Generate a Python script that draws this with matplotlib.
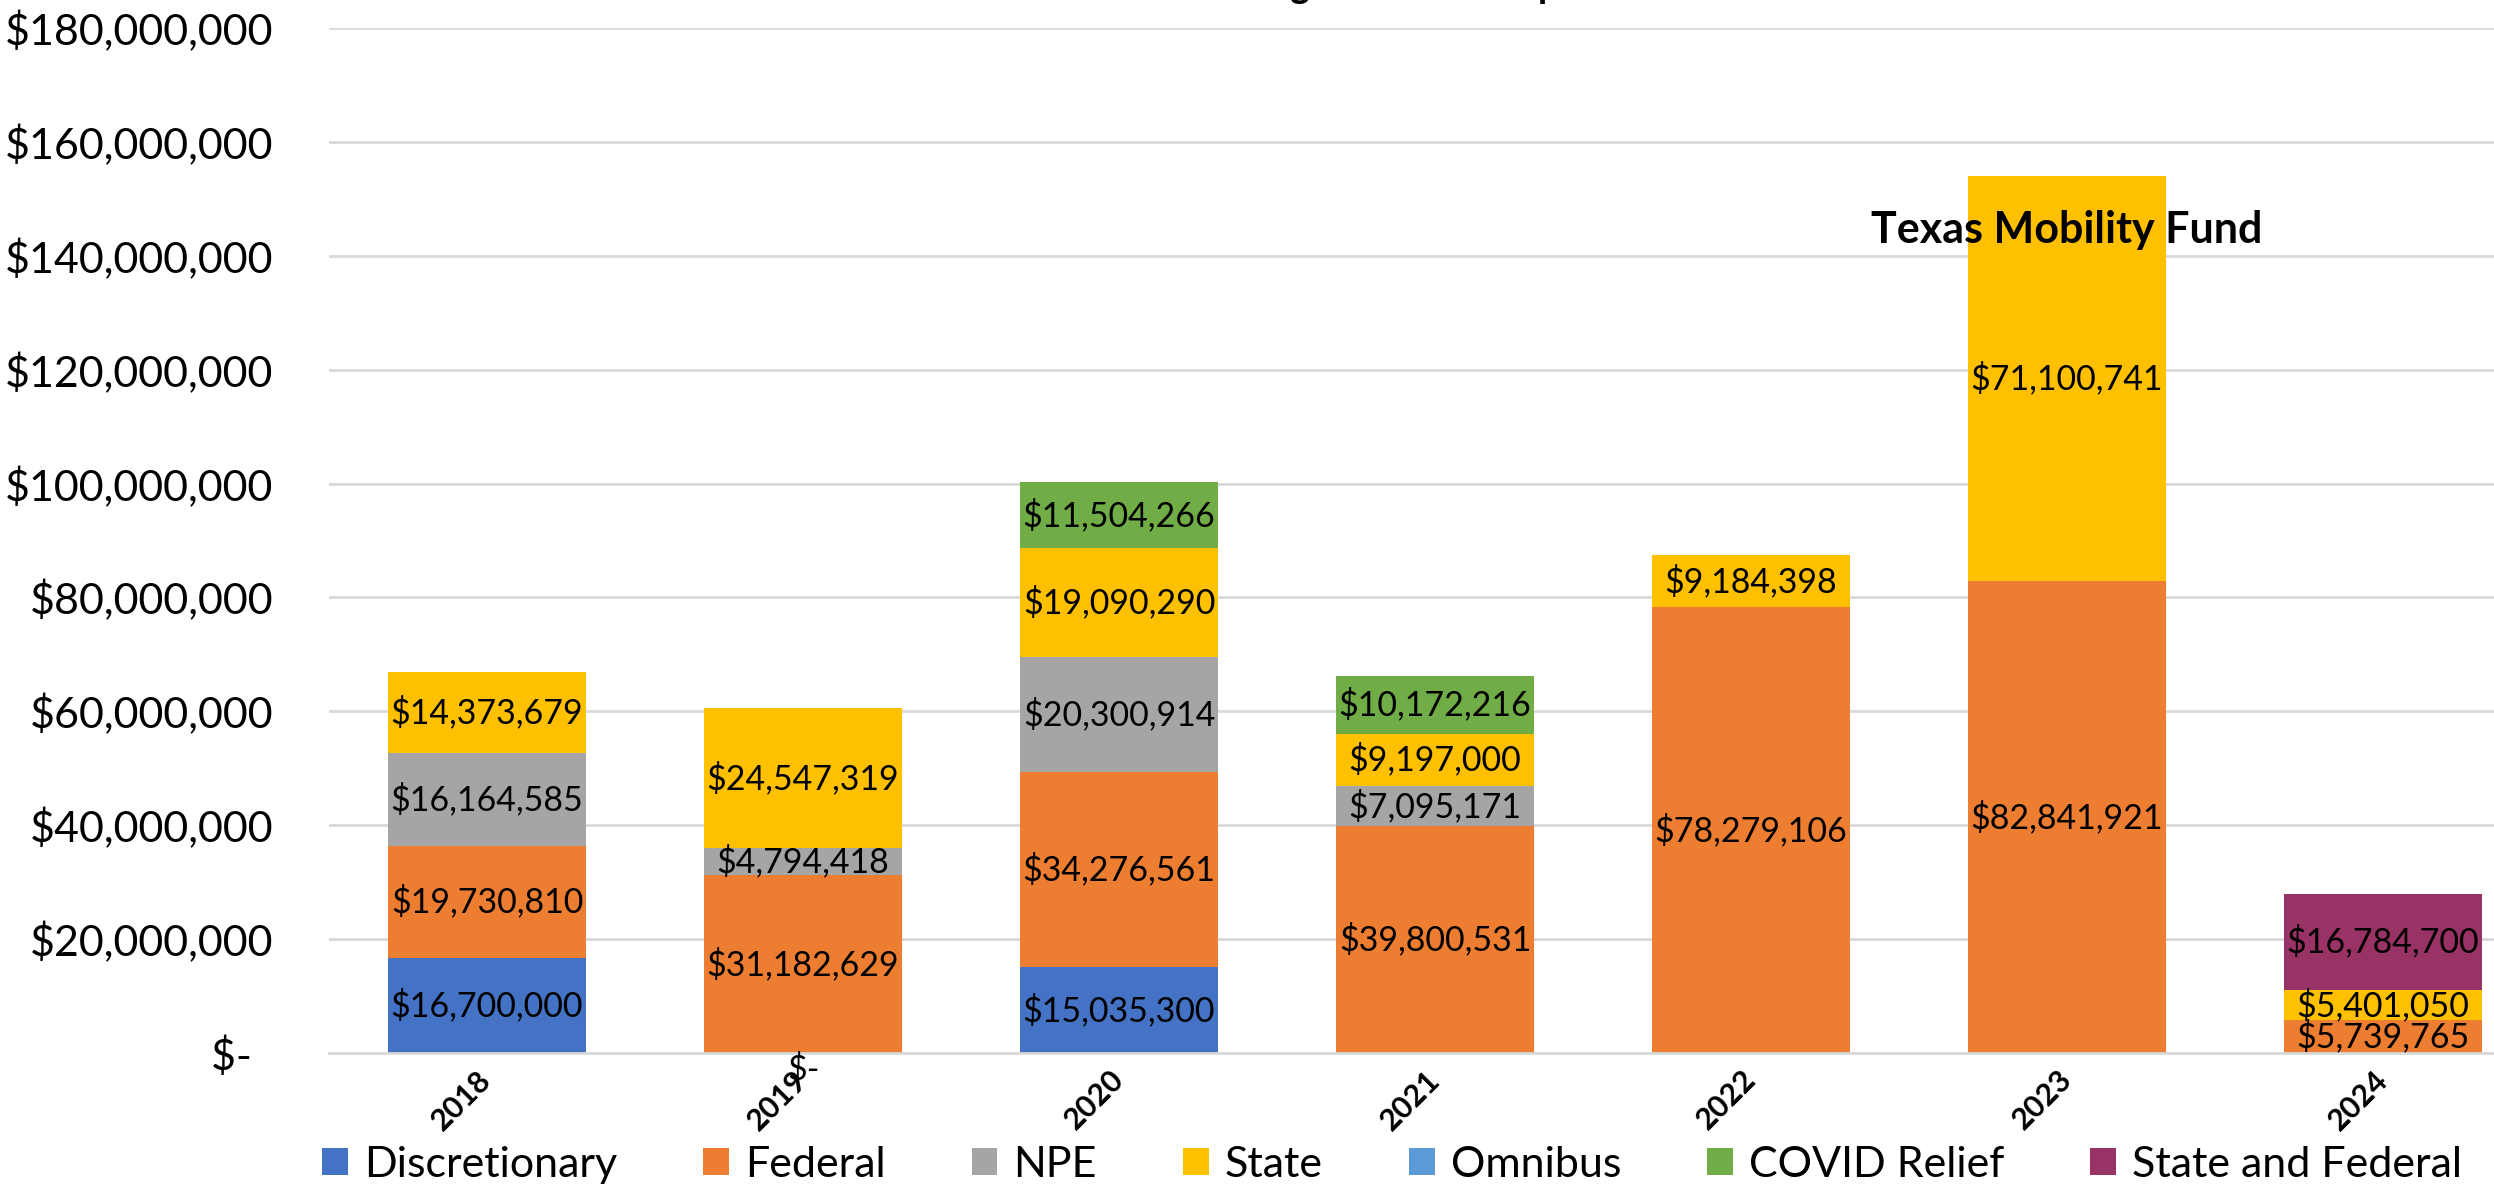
import numpy as np
import matplotlib.pyplot as plt
from matplotlib.ticker import FuncFormatter

years = ['2018', '2019', '2020', '2021', '2022', '2023', '2024']

discretionary = [16700000, 0, 15035300, np.nan, np.nan, np.nan, np.nan]
federal = [19730810, 31182629, 34276561, 39800531, 78279106, 82841921, 5739765]
npe = [16164585, 4794418, 20300914, 7095171, np.nan, np.nan, np.nan]
state = [14373679, 24547319, 19090290, 9197000, 9184398, 71100741, 5401050]
omnibus = [np.nan] * 7
covid = [np.nan, np.nan, 11504266, 10172216, np.nan, np.nan, np.nan]
state_federal = [np.nan, np.nan, np.nan, np.nan, np.nan, np.nan, 16784700]

series = [
    ('Discretionary', discretionary, '#4472C4'),
    ('Federal', federal, '#ED7D31'),
    ('NPE', npe, '#A5A5A5'),
    ('State', state, '#FFC000'),
    ('Omnibus', omnibus, '#5B9BD5'),
    ('COVID Relief', covid, '#70AD47'),
    ('State and Federal', state_federal, '#993366'),
]

plt.rcParams['font.family'] = ['Lato', 'DejaVu Sans']

fig = plt.figure(figsize=(24.94, 11.99), dpi=100)
ax = fig.add_axes([329 / 2494, 1 - 1053 / 1199, 2212 / 2494, 1025 / 1199])

x = np.arange(len(years))
bottom = np.zeros(len(years))
for name, vals, color in series:
    v = np.nan_to_num(np.array(vals, dtype=float))
    ax.bar(x, v, 0.627, bottom=bottom, color=color, label=name, zorder=2)
    for i, val in enumerate(vals):
        if np.isnan(val):
            continue
        if val == 0:
            ax.text(x[i], bottom[i], '$-', ha='center', va='top', fontsize=24.5)
        else:
            ax.text(x[i], bottom[i] + val / 2, '${:,.0f}'.format(val),
                    ha='center', va='center', fontsize=24.5, zorder=3)
    bottom += v

ax.text(5, 144.5e6, 'Texas Mobility Fund', ha='center', va='center',
        fontsize=31, fontweight='bold', zorder=3)

ax.set_xlim(-0.5, len(years) - 0.5)
ax.set_ylim(0, 180e6)
ax.set_yticks(np.arange(0, 180e6 + 1, 20e6))
ax.yaxis.set_major_formatter(FuncFormatter(
    lambda v, p: '$-  ' if v == 0 else '${:,.0f}'.format(v)))
ax.tick_params(axis='y', labelsize=31, length=0, pad=40)
ax.set_xticks(x)
ax.set_xticklabels(years, rotation=45, ha='right', va='center',
                   rotation_mode='anchor', fontsize=22, fontweight='bold')
ax.tick_params(axis='x', length=0, pad=16)

ax.grid(axis='y', color='#D9D9D9', linewidth=2, zorder=0)
for s in ['top', 'right', 'left']:
    ax.spines[s].set_visible(False)
ax.spines['bottom'].set_color('#D9D9D9')
ax.spines['bottom'].set_linewidth(2)

fig.legend(loc='center', bbox_to_anchor=(1392 / 2494, 1 - 1165 / 1199), ncol=7,
           fontsize=31, frameon=False, handlelength=0.6, handleheight=0.6,
           handletextpad=0.37, columnspacing=2.0)

# title sits above the visible area, only the descenders show
fig.text(1418 / 2494, 1.0 + 2 / 1199, 'Funding Sources Comparison', ha='center',
         va='baseline', fontsize=27, fontweight='bold')

fig.savefig('out.png', dpi=100)
